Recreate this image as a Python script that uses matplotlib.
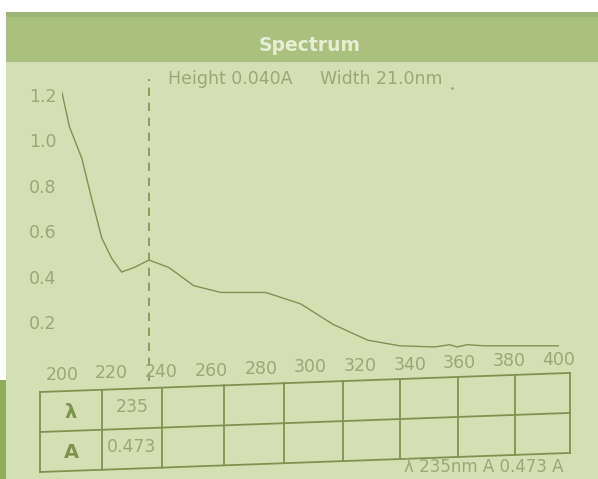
import matplotlib
matplotlib.use("Agg")
import matplotlib.pyplot as plt
from matplotlib.patches import Rectangle
import matplotlib.transforms as mtransforms

plt.rcParams.update({
    "font.family": ["DejaVu Sans"],
    "font.size": 12.5,
})

# spectrum
wavelength = [200, 203, 208, 212, 216, 220, 224, 229, 235, 243, 253, 264,
              282, 296, 309, 323, 336, 350, 356, 359, 363, 370, 400]
absorbance = [1.21, 1.06, 0.92, 0.74, 0.57, 0.48, 0.42, 0.44, 0.473, 0.44, 0.36, 0.33,
              0.33, 0.28, 0.19, 0.12, 0.095, 0.09, 0.10, 0.09, 0.10, 0.095, 0.095]

x_ticks = [200, 220, 240, 260, 280, 300, 320, 340, 360, 380, 400]
y_ticks = [0.2, 0.4, 0.6, 0.8, 1.0, 1.2]

peak_nm = 235
peak_height = "Height 0.040A"
peak_width = "Width 21.0nm"
table_rows = ["λ", "A"]
table_first = ["235", "0.473"]
footer = "λ 235nm A 0.473 A"

BG = "#d4dfb4"
HEADER = "#a9c07f"
TEXT = "#9aa877"
LINE = "#7f9350"

W, H = 598, 479
fig = plt.figure(figsize=(W / 100, H / 100), dpi=100)
fig.patch.set_facecolor("white")

# background layer in pixel coordinates
bg = fig.add_axes([0, 0, 1, 1])
bg.set_xlim(0, W)
bg.set_ylim(H, 0)
bg.axis("off")
bg.add_patch(Rectangle((6, 12), W - 6, H - 12, color=BG, lw=0))
bg.add_patch(Rectangle((6, 12), W - 6, 50, color=HEADER, lw=0))
bg.add_patch(Rectangle((6, 12), W - 6, 5, color="#9db575", lw=0))
bg.add_patch(Rectangle((0, 380), 6, H - 380, color="#8fae5c", lw=0))
bg.text(310, 45, "Spectrum", color="#e6eed4", fontsize=13.5, fontweight="bold",
        ha="center", va="center")
bg.text(168, 79, peak_height, color=TEXT, ha="left", va="center", fontsize=12.5)
bg.text(320, 79, peak_width, color=TEXT, ha="left", va="center", fontsize=12.5)
bg.plot([452], [88], marker=".", ms=2, color=TEXT)


# table, photographed with a small tilt
def tilt(x, y):
    return y - (x - 40) * 0.036


cols = [40, 102, 162, 224, 284, 343, 400, 458, 515, 570]
rows = [392, 432, 472]
for r in rows:
    bg.plot([cols[0], cols[-1]], [tilt(cols[0], r), tilt(cols[-1], r)], color=LINE, lw=1.3)
for c in cols:
    bg.plot([c, c], [tilt(c, rows[0]), tilt(c, rows[-1])], color=LINE, lw=1.3)
for i, (lab, val) in enumerate(zip(table_rows, table_first)):
    yc = (rows[i] + rows[i + 1]) / 2
    bg.text(71, tilt(71, yc) + 2, lab, color=LINE, ha="center", va="center",
            fontsize=14, fontweight="bold")
    bg.text(132, tilt(132, yc) - 2, val, color=TEXT, ha="center", va="center", fontsize=12.5)
bg.text(563, 467, footer, color=TEXT, ha="right", va="center", fontsize=12)

# spectrum axes
x0, x1 = 62, 559
ytop, ybot = 83.6, 367.4
ax = fig.add_axes([x0 / W, 1 - ybot / H, (x1 - x0) / W, (ybot - ytop) / H])
ax.patch.set_alpha(0)
ax.set_xlim(200, 400)
ax.set_ylim(0, 1.25)
for s in ax.spines.values():
    s.set_visible(False)

ax.plot(wavelength, absorbance, color=LINE, lw=1.0)
ax.plot([peak_nm, peak_nm], [-0.06, 1.27], color=LINE, lw=1.2,
        linestyle=(0, (5, 4)), clip_on=False)

ax.set_yticks(y_ticks)
ax.set_yticklabels([f"{v:.1f}" for v in y_ticks])
ax.tick_params(axis="y", length=0, pad=4, labelcolor=TEXT)
ax.set_xticks([])
trans = mtransforms.blended_transform_factory(ax.transData, ax.transAxes)
for v in x_ticks:
    ypix = 375 - (v - 200) / 200 * 15
    ax.text(v, (ybot - ypix) / (ybot - ytop), str(v), transform=trans, color=TEXT,
            ha="center", va="center", fontsize=12.5)

fig.savefig("out.png", dpi=100)
